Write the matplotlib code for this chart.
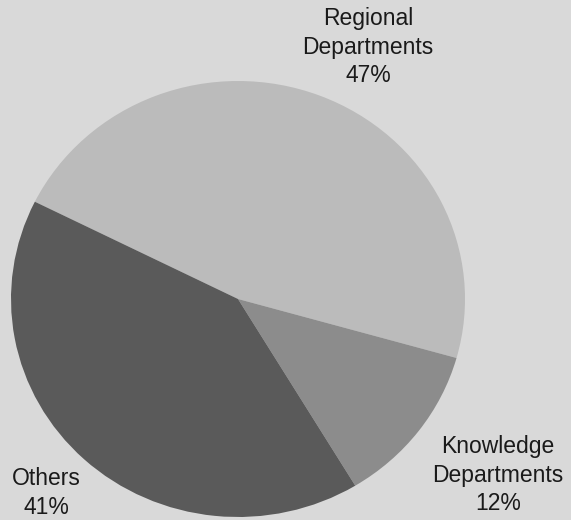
import matplotlib
matplotlib.use("Agg")
import matplotlib.pyplot as plt

# pie shares (percent), clockwise from the Others/Regional edge
names = ["Regional\nDepartments", "Knowledge\nDepartments", "Others"]
shares = [47, 12, 41]
colors = ["#bbbbbb", "#8c8c8c", "#5a5a5a"]

# label centres in figure fraction
label_pos = [(0.6445, 0.9096), (0.872, 0.0865), (0.0806, 0.052)]

plt.rcParams['font.family'] = ['Liberation Sans', 'DejaVu Sans']

fig = plt.figure(figsize=(5.71, 5.20), dpi=100)
fig.patch.set_facecolor("#d9d9d9")
ax = fig.add_axes([0, 0, 1, 1])
ax.set_facecolor("#d9d9d9")

ax.pie(shares, colors=colors, startangle=153.5, counterclock=False,
       wedgeprops=dict(linewidth=0))

# the reference pie is a little wider than tall
ax.set_aspect('auto')
ax.set_xlim(-238 / 227, (571 - 238) / 227)
ax.set_ylim((299 - 520) / 218, 299 / 218)
ax.axis('off')

for name, v, (x, y) in zip(names, shares, label_pos):
    fig.text(x, y, f"{name}\n{v}%", ha='center', va='center',
             fontsize=16.5, color='#1a1a1a', linespacing=1.32)

fig.savefig("out.png", dpi=100, facecolor=fig.get_facecolor())
